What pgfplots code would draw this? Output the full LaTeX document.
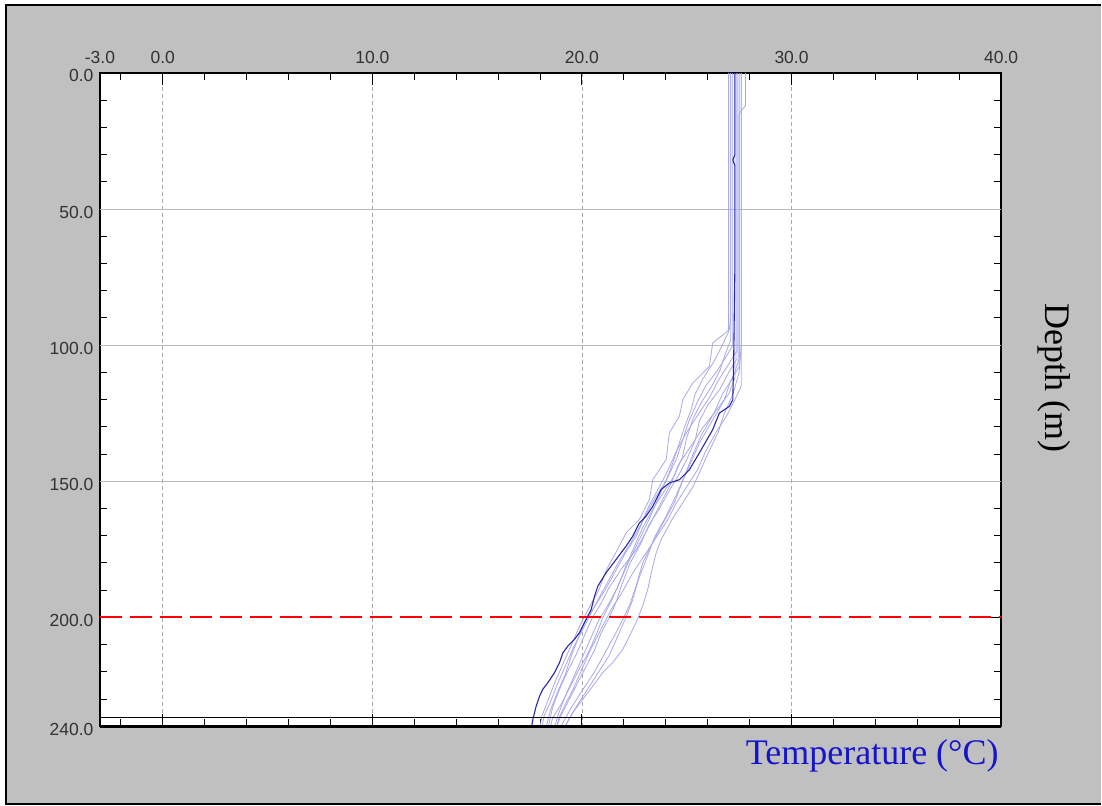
\documentclass[border=0pt]{standalone}
\usepackage{pgfplots}
\pgfplotsset{compat=1.18}
\usepackage{fontspec}
\setmainfont{Liberation Serif}
\newfontfamily\ticksf{Liberation Sans}
\definecolor{bggray}{RGB}{192,192,192}
\definecolor{lightprof}{RGB}{168,168,236}
\definecolor{darkprof}{RGB}{40,40,170}
\definecolor{tickgray}{RGB}{50,50,50}
\definecolor{labblue}{RGB}{20,20,205}
\definecolor{gridgray}{RGB}{185,185,185}
\begin{document}
\begin{tikzpicture}
\fill[white] (0pt,0pt) rectangle (1102pt,806pt);
\fill[bggray] (6pt,1pt) rectangle (1102pt,801pt);
\draw[line width=2pt] (1102pt,801pt) -- (6pt,801pt) -- (6pt,1pt) -- (1102pt,1pt);
\begin{axis}[
  at={(100pt,79pt)}, anchor=south west,
  width=902pt, height=654pt, scale only axis,
  xmin=-3, xmax=40, ymin=0, ymax=240, y dir=reverse,
  clip=false,
  axis background/.style={fill=white},
  axis line style={line width=1.8pt},
  xtick={-3,0,10,20,30,40},
  xticklabels={-3.0,0.0,10.0,20.0,30.0,40.0},
  minor xtick={-2,0,...,40},
  xtick pos=both, xticklabel pos=upper,
  ytick={0,50,100,150,200,240},
  yticklabels={0.0,50.0,100.0,150.0,200.0,240.0},
  minor ytick={10,20,...,230},
  ytick pos=both, yticklabel pos=left,
  tick align=inside,
  major tick length=12pt, minor tick length=7pt,
  every tick/.style={black, line width=1pt},
  tick label style={font=\ticksf\fontsize{17.5}{18}\selectfont, text=tickgray},
  xticklabel style={yshift=6pt},
  yticklabel style={xshift=-3pt, yshift=-3pt},
  xmajorgrids,
  major x grid style={gridgray!90!black, line width=0.8pt, dash pattern=on 4pt off 3pt},
]
% horizontal grid lines
\draw[gridgray, line width=1pt] (axis cs:-3,50) -- (axis cs:40,50);
\draw[gridgray, line width=1pt] (axis cs:-3,100) -- (axis cs:40,100);
\draw[gridgray, line width=1pt] (axis cs:-3,150) -- (axis cs:40,150);

% light profiles
\addplot[color=lightprof, line width=0.8pt] coordinates {(27.1,0) (27.1,60) (27.1,90) (27.03,94.3) (26.24,99.2) (26.08,107.8) (25.29,113.9) (24.81,120) (24.65,126.1) (24.17,132.2) (24.02,142) (23.38,149.4) (23.22,156.7) (22.74,164) (22.11,168.9) (21.7,175) (21.2,182) (20.8,190) (20.3,197) (19.9,203) (19.5,210) (19.1,217) (18.7,224) (18.4,230) (18.1,236) (18.0,240)};
\addplot[color=lightprof, line width=0.8pt] coordinates {(27.6,0) (27.6,100) (27.5,110) (27.2,118) (26.8,125) (26.5,132) (26.0,140) (25.6,147) (25.3,152) (24.8,158) (24.3,164) (23.78,171.4) (23.54,176.3) (23.38,181.2) (23.14,189.7) (22.9,195.8) (22.58,201.9) (22.27,206.8) (21.95,211.7) (21.47,216.6) (20.99,220.3) (20.52,225.2) (20.04,230.1) (19.56,235) (19.2,240)};
\addplot[color=lightprof, line width=0.8pt] coordinates {(27.8,0) (27.8,12) (27.5,15) (27.5,60) (27.5,105) (27.2,112) (26.7,118) (26.3,125) (25.7,133) (25.3,140) (24.9,148) (24.5,155) (24.0,163) (23.5,170) (23.1,178) (22.7,186) (22.4,194) (22.1,200) (21.7,207) (21.3,214) (20.8,220) (20.3,226) (19.8,232) (19.4,237) (19.2,240)};
\addplot[color=lightprof, line width=0.8pt] coordinates {(27.2,0) (27.2,100) (26.9,104) (26.4,110) (25.9,115) (25.5,121) (25.1,128) (24.8,135) (24.5,142) (24.0,150) (23.6,157) (23.2,164) (22.7,172) (22.2,180) (21.8,187) (21.4,194) (21.0,200) (20.7,206) (20.3,213) (19.8,220) (19.4,226) (19.0,232) (18.6,237) (18.5,240)};
\addplot[color=lightprof, line width=0.8pt] coordinates {(27.4,0) (27.4,105) (27.0,110) (26.6,116) (26.0,122) (25.6,128) (25.4,135) (25.0,142) (24.6,148) (24.2,153) (23.7,160) (23.2,166) (22.8,173) (22.3,180) (21.9,188) (21.6,195) (21.3,200) (20.9,206) (20.6,212) (20.2,218) (19.8,224) (19.4,230) (19.0,236) (18.8,240)};
\addplot[color=lightprof, line width=0.8pt] coordinates {(27.0,0) (27.0,95) (26.7,100) (26.3,106) (25.8,112) (25.4,118) (25.2,124) (24.9,130) (24.6,137) (24.3,144) (24.0,150) (23.5,156) (23.0,163) (22.6,170) (22.1,176) (21.6,183) (21.1,190) (20.6,196) (20.1,202) (19.8,208) (19.5,214) (19.2,221) (18.8,228) (18.5,234) (18.3,240)};
\addplot[color=lightprof, line width=0.8pt] coordinates {(27.5,0) (27.5,108) (27.1,113) (26.8,120) (26.2,128) (25.6,136) (25.2,143) (24.8,150) (24.4,158) (23.9,165) (23.4,172) (22.9,180) (22.6,188) (22.3,195) (22.0,200) (21.6,206) (21.1,213) (20.6,220) (20.0,227) (19.5,233) (19.0,240)};
\addplot[color=lightprof, line width=0.8pt] coordinates {(27.3,0) (27.3,112) (27.0,118) (26.4,124) (25.8,130) (25.2,137) (24.6,144) (24.3,150) (23.9,156) (23.5,162) (23.1,168) (22.6,175) (21.9,182) (21.3,189) (20.9,195) (20.5,200) (20.1,207) (19.7,214) (19.3,220) (18.9,227) (18.6,233) (18.4,240)};
\addplot[color=lightprof, line width=0.8pt] coordinates {(27.1,0) (27.1,98) (26.8,104) (26.6,109) (26.2,115) (25.7,121) (25.3,127) (25.0,134) (24.8,141) (24.4,148) (23.9,154) (23.4,160) (22.9,167) (22.5,174) (22.1,181) (21.7,189) (21.2,196) (20.8,201) (20.4,208) (20.0,215) (19.6,222) (19.2,229) (18.9,235) (18.7,240)};
\addplot[color=lightprof, line width=0.8pt] coordinates {(27.6,0) (27.6,115) (27.3,120) (26.9,126) (26.4,132) (25.9,139) (25.5,146) (25.0,152) (24.5,158) (24.1,164) (23.6,170) (23.0,177) (22.4,184) (21.9,191) (21.4,197) (21.2,200) (20.8,206) (20.4,212) (20.0,219) (19.6,226) (19.2,232) (18.9,237) (18.8,240)};
\addplot[color=lightprof, line width=0.8pt] coordinates {(27.4,0) (27.4,102) (27.0,107) (26.5,113) (26.1,119) (25.5,126) (25.0,132) (24.5,139) (24.1,146) (23.7,152) (23.2,159) (22.8,166) (22.3,173) (21.8,179) (21.3,186) (20.8,193) (20.4,199) (20.0,205) (19.6,211) (19.2,218) (18.8,225) (18.5,231) (18.2,236) (18.1,240)};

% red reference line at 200 m
\addplot[red, line width=2pt, dash pattern=on 22pt off 8pt] coordinates {(-3,200) (40,200)};

% dark profile
\addplot[color=darkprof, line width=1.1pt] coordinates {(27.3,0) (27.3,30) (27.2,32) (27.3,34) (27.3,70) (27.25,100) (27.2,120) (27.03,122.5) (26.56,124.9) (26.24,131) (25.6,139.6) (25.13,145.7) (24.65,149.4) (24.17,150.6) (23.78,153) (23.38,159.2) (23.06,162.8) (22.74,165.3) (22.42,170.2) (22.11,173.8) (21.63,178.7) (21.15,183.6) (20.76,188.5) (20.6,192.2) (20.44,197.1) (20.2,200.7) (19.88,205.6) (19.64,208.1) (19.33,210.5) (19.09,213) (18.93,216.6) (18.69,220.3) (18.37,224) (18.13,226.4) (17.98,228.9) (17.82,232.5) (17.66,237.4) (17.6,240)};

% bottom band
\draw[black, line width=1pt] (axis cs:-3,236.7) -- (axis cs:40,236.7);
\draw[black, line width=3pt] (axis cs:-3,240) -- (axis cs:40,240);
\end{axis}
\node[labblue, font=\fontsize{36}{36}\selectfont] at (873pt,49pt) {Temperature (°C)};
\node[black, rotate=-90, font=\fontsize{36}{36}\selectfont] at (1055pt,428pt) {Depth (m)};
\end{tikzpicture}
\end{document}
